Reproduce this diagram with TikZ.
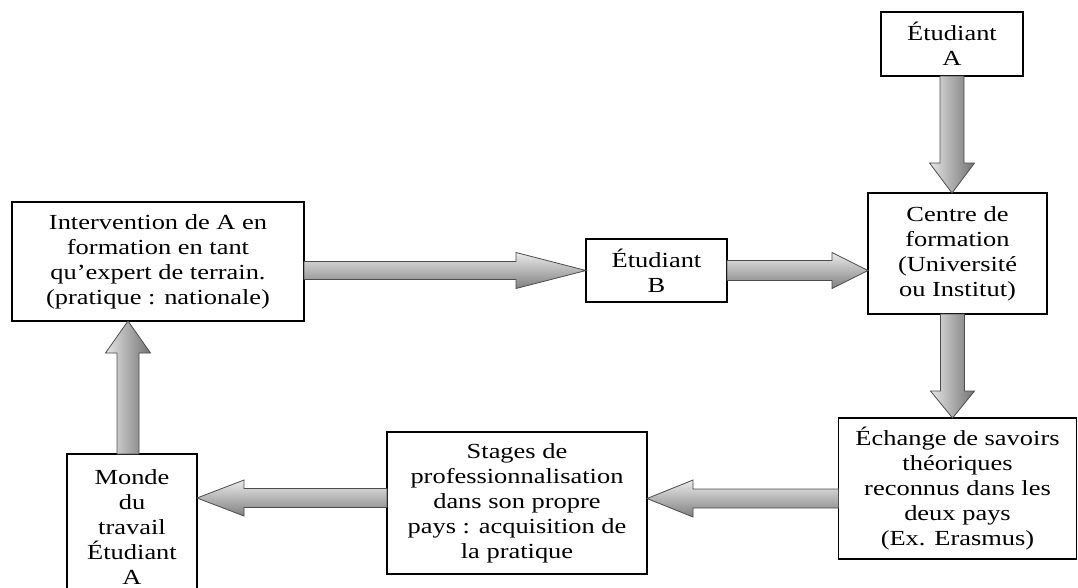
\documentclass[tikz,border=0pt]{standalone}
\usepackage{fontspec}
\setmainfont[FakeStretch=1.23]{Liberation Serif}
\usetikzlibrary{calc}
\tikzset{
  box/.style={draw=black, line width=1.1pt, fill=white, inner sep=0pt, outer sep=0pt,
    align=center, font=\fontsize{21.5}{25}\selectfont},
  arrowline/.style={draw=black!70, line width=0.8pt, line join=miter},
  harrow/.style={arrowline, top color=black!8, bottom color=black!50},
  varrow/.style={arrowline, left color=black!10, right color=black!55},
}
% #1 style, #2 from, #3 to, #4 shaft half width, #5 head half width, #6 head length (numbers, in pt)
\newcommand\blockarr[6]{%
  \coordinate (ba-s) at (#2);
  \coordinate (ba-e) at (#3);
  \coordinate (ba-m) at ($(ba-e)!#6pt!(ba-s)$);
  \path[#1] ($(ba-s)!#4pt!90:(ba-e)$) -- ($(ba-m)!#4pt!90:(ba-e)$) -- ($(ba-m)!#5pt!90:(ba-e)$)
    -- (ba-e) -- ($(ba-m)!#5pt!-90:(ba-e)$) -- ($(ba-m)!#4pt!-90:(ba-e)$)
    -- ($(ba-s)!#4pt!-90:(ba-e)$) -- cycle;
}
\begin{document}
\begin{tikzpicture}[x=1pt, y=-1pt]
\useasboundingbox (0,0) rectangle (1078,587);
\clip (0,0) rectangle (1078,587);
\fill[white] (0,0) rectangle (1078,587);

\node[box, minimum width=142, minimum height=64] (A) at (952,44) {Étudiant\\A};
\node[box, minimum width=179, minimum height=121] (C) at (957.5,253.5) {Centre de\\formation\\(Université\\ou Institut)};
\node[box, minimum width=141, minimum height=63] (B) at (656.5,270.5) {Étudiant\\B};
\node[box, minimum width=292, minimum height=119] (I) at (158,261.5) {Intervention de A en\\formation en tant\\qu’expert de terrain.\\(pratique : nationale)};
\node[box, minimum width=238, minimum height=141] (E) at (957.5,488.5) {Échange de savoirs\\théoriques\\reconnus dans les\\deux pays\\(Ex. Erasmus)};
\node[box, minimum width=260, minimum height=142] (S) at (517,503) {Stages de\\professionnalisation\\dans son propre\\pays : acquisition de\\la pratique};
\node[box, minimum width=130, minimum height=146] (M) at (132,527) {Monde\\du\\travail\\Étudiant\\A};

\coordinate (ce) at ($(C.south)+(-5,0)$);
\coordinate (es) at ($(E.west)+(0,10)$);
\coordinate (sm) at ($(S.west)+(0,-5)$);
\coordinate (mi) at ($(M.north)+(-4,0)$);

\blockarr{varrow}{A.south}{A.south |- C.north}{12}{22.5}{30}
\blockarr{harrow}{I.east |- B.west}{B.west}{9}{18}{70}
\blockarr{harrow}{B.east}{B.east -| C.west}{10}{18}{36}
\blockarr{varrow}{ce}{ce |- E.north}{12}{22}{27}
\blockarr{harrow}{es}{es -| S.east}{9.5}{18.5}{46}
\blockarr{harrow}{sm}{sm -| M.east}{9.5}{18}{47}
\blockarr{varrow}{mi}{mi |- I.south}{11}{22.5}{32}
\end{tikzpicture}
\end{document}
